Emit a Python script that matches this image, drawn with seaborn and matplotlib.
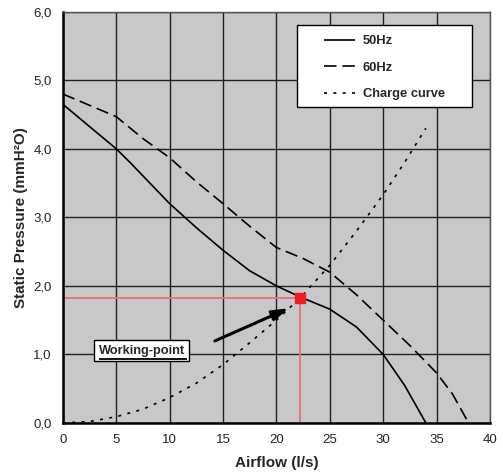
import matplotlib
matplotlib.use("Agg")
import matplotlib.pyplot as plt
import seaborn as sns
import pandas as pd
from matplotlib.ticker import FuncFormatter
from matplotlib.patches import Rectangle

x50 = [0, 5, 6.3, 10, 12.5, 15, 17.5, 20, 22.2, 25, 27.5, 30, 32, 34]
y50 = [4.65, 4.0, 3.8, 3.2, 2.85, 2.52, 2.22, 2.0, 1.84, 1.66, 1.4, 1.0, 0.55, 0.0]
x60 = [0, 5, 7.5, 10, 12.5, 15, 17.5, 20, 22.5, 25, 27.5, 30, 32.5, 35, 36.5, 38]
y60 = [4.8, 4.47, 4.15, 3.87, 3.52, 3.2, 2.87, 2.56, 2.4, 2.2, 1.87, 1.5, 1.13, 0.73, 0.42, 0.0]
xch = [0, 2.5, 5, 7.5, 10, 12.5, 15, 17.5, 20, 22.2, 25, 27.5, 30, 32, 34]
ych = [0.0, 0.02, 0.09, 0.2, 0.37, 0.58, 0.85, 1.17, 1.5, 1.82, 2.3, 2.8, 3.33, 3.8, 4.3]
work_x, work_y = 22.2, 1.82
labels = ["50Hz", "60Hz", "Charge curve"]

sns.set_theme(style="white")
plt.rcParams['font.family'] = ['Liberation Sans', 'DejaVu Sans']

df = pd.concat([
    pd.DataFrame({"x": x50, "y": y50, "s": labels[0]}),
    pd.DataFrame({"x": x60, "y": y60, "s": labels[1]}),
    pd.DataFrame({"x": xch, "y": ych, "s": labels[2]}),
])

fig = plt.figure(figsize=(5.03, 4.72), dpi=100)
ax = fig.add_axes([0.125, 0.104, 0.849, 0.871])
ax.set_facecolor("#c8c8c8")

styles = {labels[0]: (0, ()), labels[1]: (0, (7.5, 3.5)), labels[2]: (0, (1.8, 3.8))}
for lab in labels:
    sub = df[df.s == lab]
    sns.lineplot(data=sub, x="x", y="y", ax=ax, color="black", linewidth=1.2,
                 linestyle=styles[lab], label=lab, sort=False, estimator=None, zorder=3)

# working point guides
ax.plot([0, work_x], [work_y, work_y], color="#e8707a", lw=1.3, zorder=2.5)
ax.plot([work_x, work_x], [0, work_y], color="#e8707a", lw=1.3, zorder=2.5)
ax.plot([work_x], [work_y], marker="s", color="#ee1c25", markersize=7, zorder=5)

ax.annotate("", xy=(21.4, 1.69), xytext=(14.0, 1.18),
            arrowprops=dict(arrowstyle="-|>,head_length=0.8,head_width=0.25", color="black", lw=2.2))
ax.text(7.4, 1.05, "Working-point", fontsize=9.2, fontweight="bold", ha="center", va="center",
        bbox=dict(boxstyle="square,pad=0.35", facecolor="white", edgecolor="black", lw=1.0),
        zorder=6)
ax.plot([3.4, 11.65], [0.94, 0.94], color="black", lw=1.3, zorder=7, solid_capstyle="butt")

ax.set_xlim(0, 40)
ax.set_ylim(0, 6)
ax.set_xticks(range(0, 41, 5))
ax.set_yticks(range(0, 7))
ax.yaxis.set_major_formatter(FuncFormatter(lambda v, p: f"{v:.1f}".replace(".", ",")))
ax.grid(True, color="#202020", lw=1.0)
ax.set_axisbelow(True)
ax.tick_params(axis="both", direction="out", length=4, width=1, labelsize=9.5, colors="black", pad=4)
ax.tick_params(axis="both", labelcolor="#222222")
for s in ["left", "bottom"]:
    ax.spines[s].set_color("black")
    ax.spines[s].set_linewidth(1.8)
for s in ["top", "right"]:
    ax.spines[s].set_color("#555555")
    ax.spines[s].set_linewidth(1.0)

ax.set_xlabel("Airflow (l/s)", fontsize=11, fontweight="bold", labelpad=7)
ax.set_ylabel("Static Pressure (mmH²O)", fontsize=11, fontweight="bold", labelpad=4)

# legend box and legend
ax.add_patch(Rectangle((0.548, 0.769), 0.41, 0.199, transform=ax.transAxes,
                       facecolor="white", edgecolor="black", lw=1.0, zorder=8))
leg = ax.legend(loc="upper left", bbox_to_anchor=(0.611, 0.943), frameon=False,
                fontsize=9.3, handlelength=2.45, handletextpad=0.55, labelspacing=1.12,
                borderpad=0, borderaxespad=0)
leg.set_zorder(9)
for t in leg.get_texts():
    t.set_fontweight("bold")

fig.savefig("out.png", dpi=100)
